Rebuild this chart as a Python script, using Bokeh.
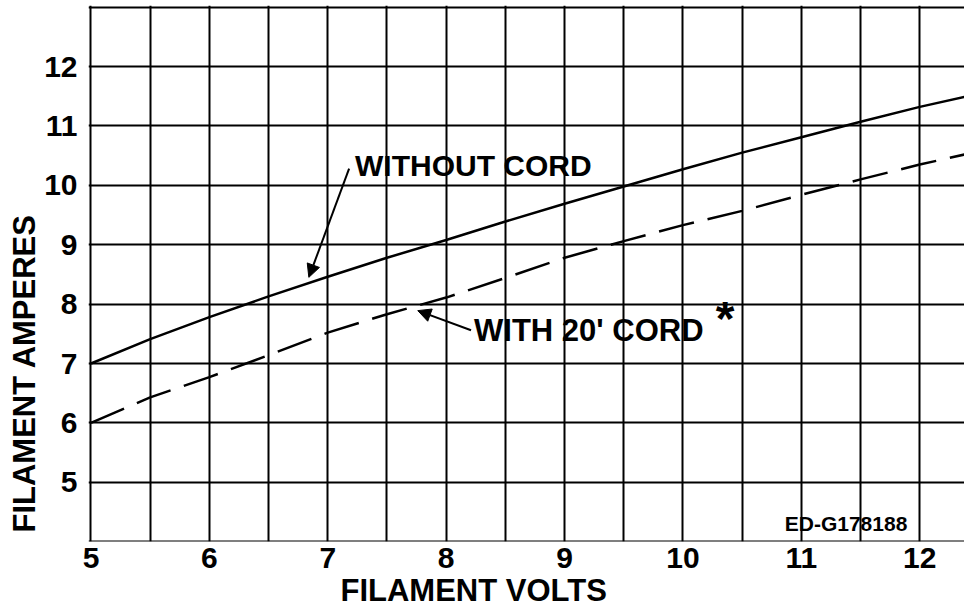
from bokeh.plotting import figure
from bokeh.models import Range1d, FixedTicker, Label, Arrow, NormalHead, Title
from bokeh.embed import file_html
from bokeh.resources import INLINE

# ---- data ----
volts = [5, 5.5, 6, 6.5, 7, 7.5, 8, 8.5, 9, 9.5, 10, 10.5, 11, 11.5, 12, 12.45]
amps_without_cord = [7.0, 7.41, 7.78, 8.13, 8.46, 8.78, 9.08, 9.39, 9.69, 9.98,
                     10.27, 10.55, 10.81, 11.07, 11.32, 11.52]
amps_with_cord = [6.0, 6.43, 6.77, 7.14, 7.52, 7.83, 8.11, 8.44, 8.78, 9.06,
                  9.33, 9.57, 9.84, 10.10, 10.35, 10.55]

x_ticks = [5, 6, 7, 8, 9, 10, 11, 12]
y_ticks = [5, 6, 7, 8, 9, 10, 11, 12]
x_grid = [5, 5.5, 6, 6.5, 7, 7.5, 8, 8.5, 9, 9.5, 10, 10.5, 11, 11.5, 12, 12.5]
y_grid = [4, 5, 6, 7, 8, 9, 10, 11, 12, 13]

x_title = "FILAMENT VOLTS"
y_title = "FILAMENT AMPERES"

FONT = "Liberation Sans"

# ---- layout ----
PX_PER_VOLT = 118.4
PX_PER_AMP = 59.4
FRAME_W = 876
FRAME_H = 536
X0 = 4.979
Y1 = 13.027

p = figure(
    frame_width=FRAME_W, frame_height=FRAME_H,
    x_range=Range1d(X0, X0 + FRAME_W / PX_PER_VOLT),
    y_range=Range1d(Y1 - FRAME_H / PX_PER_AMP, Y1),
    output_backend="svg", toolbar_location=None,
    min_border_left=88, min_border_right=0, min_border_top=5, min_border_bottom=60,
    background_fill_color="white", border_fill_color="white",
)
p.outline_line_color = None

for ax, ticks in ((p.xaxis, x_ticks), (p.yaxis, y_ticks)):
    ax.ticker = FixedTicker(ticks=ticks)
    ax.axis_line_color = None
    ax.major_tick_line_color = None
    ax.minor_tick_line_color = None
    ax.major_tick_out = 0
    ax.major_tick_in = 0
    ax.major_label_text_font = FONT
    ax.major_label_text_font_style = "bold"
    ax.major_label_text_font_size = "30px"
    ax.major_label_text_color = "black"
p.xaxis.major_label_standoff = 6
p.yaxis.major_label_standoff = 11

p.xgrid.ticker = FixedTicker(ticks=x_grid)
p.ygrid.ticker = FixedTicker(ticks=y_grid)
for g in (p.xgrid, p.ygrid):
    g.grid_line_color = "black"
    g.grid_line_width = 2
    g.grid_line_alpha = 1.0

# ---- axis titles (side panels) ----
p.add_layout(Title(text=x_title, align="left", offset=252, standoff=0,
                   text_font=FONT, text_font_size="31px", text_font_style="bold",
                   text_color="black"), "below")
p.add_layout(Title(text=y_title, align="left", offset=9, standoff=0,
                   text_font=FONT, text_font_size="31px", text_font_style="bold",
                   text_color="black"), "left")

# ---- curves ----
p.line(volts, amps_without_cord, line_color="black", line_width=2.5)
p.line(volts, amps_with_cord, line_color="black", line_width=2.5, line_dash="36 14")

# ---- annotations ----
def lab(x, y, text, size, align="left"):
    p.add_layout(Label(x=x, y=y, text=text, text_font=FONT, text_font_size=size,
                       text_font_style="bold", text_align=align, text_baseline="middle",
                       text_color="black"))

lab(7.23, 10.33, "WITHOUT CORD", "30px")
lab(8.235, 7.56, "WITH 20' CORD", "31px")
lab(10.355, 7.75, "*", "48px", align="center")
lab(11.377, 4.30, "ED-G178188", "21px", align="center")

p.add_layout(Arrow(x_start=7.18, y_start=10.28, x_end=6.84, y_end=8.45,
                   line_color="black", line_width=2,
                   end=NormalHead(size=13, fill_color="black", line_color="black")))
p.add_layout(Arrow(x_start=8.21, y_start=7.56, x_end=7.76, y_end=7.89,
                   line_color="black", line_width=2,
                   end=NormalHead(size=13, fill_color="black", line_color="black")))

open("out.html", "w").write(file_html(p, INLINE))
